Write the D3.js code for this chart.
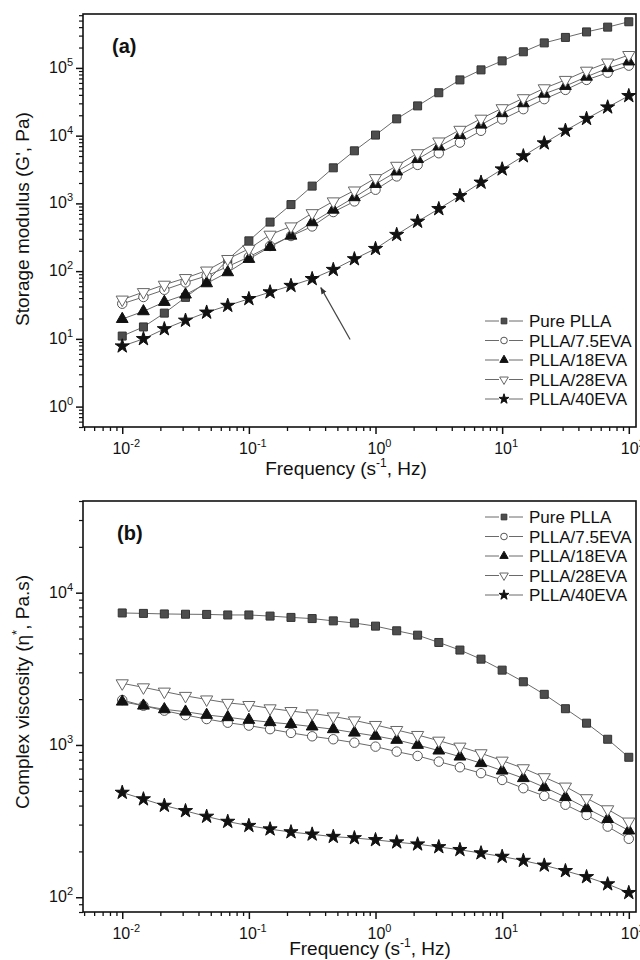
<!DOCTYPE html>
<html>
<head>
<meta charset="utf-8">
<script src="https://cdn.jsdelivr.net/npm/d3@7"></script>
<style>
 body { margin: 0; background: #fff; }
 text { font-family: "Liberation Sans", Arial, sans-serif; fill: #111; }
</style>
</head>
<body>
<div id="chart"></div>
<script>
// frequencies (Hz), 6 points per decade
var freq = [0.01, 0.0147, 0.0215, 0.0316, 0.0464, 0.0681, 0.1, 0.147, 0.215, 0.316, 0.464, 0.681,
            1, 1.47, 2.15, 3.16, 4.64, 6.81, 10, 14.7, 21.5, 31.6, 46.4, 68.1, 100];

var seriesNames = ["Pure PLLA", "PLLA/7.5EVA", "PLLA/18EVA", "PLLA/28EVA", "PLLA/40EVA"];

// (a) storage modulus G' (Pa)
var gPure = [11, 15, 24, 41, 70, 148, 280, 530, 960, 1800, 3350, 5970, 10200, 17700, 27500, 43000,
             66500, 93500, 127000, 173000, 234000, 282000, 340000, 400000, 480000];
var g75 = [33, 41.5, 53, 68, 85, 117, 162, 235, 330, 457, 745, 1070, 1590, 2500, 3700, 5500,
           7900, 11800, 17400, 24600, 34600, 47400, 66500, 85000, 108000];
var g18 = [19.6, 25.5, 35, 45, 66, 96, 151, 227, 333, 525, 805, 1230, 1930, 2950, 4500, 6900,
           10200, 14500, 21400, 30000, 41500, 54000, 74000, 99000, 124000];
var g28 = [38, 49, 63, 79, 102, 151, 213, 345, 457, 717, 1070, 1550, 2360, 3590, 5500, 8200,
           12200, 17800, 25400, 35700, 50000, 66500, 91000, 120000, 155000];
var g40 = [7.8, 10, 14, 18.7, 24.6, 31, 39, 49, 61, 77, 105, 151, 214, 345, 540, 830,
           1290, 2040, 3200, 5000, 7750, 11900, 17800, 26300, 38700];

// (b) complex viscosity eta* (Pa.s)
var etaPure = [7360, 7310, 7250, 7220, 7200, 7140, 7140, 7020, 6880, 6760, 6530, 6320, 6030,
               5620, 5260, 4710, 4200, 3660, 3100, 2600, 2150, 1730, 1390, 1090, 830];
var eta75 = [1973, 1810, 1680, 1570, 1480, 1400, 1340, 1270, 1200, 1140, 1090, 1035, 975,
             904, 847, 777, 714, 653, 589, 520, 463, 405, 347, 291, 242];
var eta18 = [1923, 1810, 1714, 1653, 1574, 1520, 1460, 1410, 1370, 1320, 1268, 1204, 1146,
             1079, 1000, 918, 838, 759, 678, 605, 528, 454, 384, 326, 274];
var eta28 = [2540, 2390, 2240, 2100, 1990, 1890, 1830, 1740, 1670, 1610, 1540, 1450, 1353,
             1254, 1163, 1067, 975, 882, 789, 703, 614, 533, 447, 378, 314];
var eta40 = [487, 441, 400, 369, 339, 314, 295, 280, 268, 259, 250, 245, 238,
             230, 223, 214, 205, 195, 185, 174, 162, 149, 136, 122, 107];

var xMajor = [0.01, 0.1, 1, 10, 100];
var xMajorExp = ["-2", "-1", "0", "1", "2"];
var yMajorA = [1, 10, 100, 1000, 10000, 100000];
var yMajorAExp = ["0", "1", "2", "3", "4", "5"];
var yMajorB = [100, 1000, 10000];
var yMajorBExp = ["2", "3", "4"];

// arrow in panel (a), data units
var arrowFrom = [0.63, 9.8];
var arrowTo = [0.37, 57];

var styles = [
  {type: d3.symbolSquare, fill: "#4d4d4d", stroke: "#333", size: 64, rot: 0},
  {type: d3.symbolCircle, fill: "#fff", stroke: "#555", size: 70, rot: 0},
  {type: d3.symbolTriangle, fill: "#111", stroke: "#111", size: 60, rot: 0},
  {type: d3.symbolTriangle, fill: "#fff", stroke: "#666", size: 64, rot: 180},
  {type: d3.symbolStar, fill: "#111", stroke: "#111", size: 62, rot: 0}
];

var width = 640, height = 960;
var left = 83, right = 636;

var svg = d3.select("#chart").append("svg").attr("width", width).attr("height", height);

svg.append("defs").append("marker")
  .attr("id", "arrowhead")
  .attr("viewBox", "0 0 10 10")
  .attr("refX", 9).attr("refY", 5)
  .attr("markerWidth", 7).attr("markerHeight", 7)
  .attr("markerUnits", "userSpaceOnUse")
  .attr("orient", "auto")
  .append("path").attr("d", "M0,1 L10,5 L0,9 Z").attr("fill", "#333");

var x = d3.scaleLog().domain([0.0049, 114]).range([left, right]);

function minorTicks(scale) {
  var dom = scale.domain(), out = [];
  var lo = Math.floor(Math.log10(dom[0])), hi = Math.ceil(Math.log10(dom[1]));
  for (var e = lo; e < hi; e++) {
    for (var m = 2; m < 10; m++) {
      var v = m * Math.pow(10, e);
      if (v >= dom[0] && v <= dom[1]) out.push(v);
    }
  }
  return out;
}

function supText(sel, base, exp) {
  sel.append("tspan").text(base);
  sel.append("tspan").attr("dy", -7).style("font-size", "11px").text(exp);
}

function drawPanel(opt) {
  var y = d3.scaleLog().domain(opt.yDomain).range([opt.bottom, opt.top]);
  var g = svg.append("g");

  // x ticks
  g.append("g").attr("transform", "translate(0," + opt.bottom + ")")
    .call(d3.axisBottom(x).tickValues(minorTicks(x)).tickSize(4).tickFormat(""))
    .call(function(a){ a.select(".domain").remove(); a.selectAll("line").attr("stroke", "#111").attr("stroke-width", 1.3); });
  g.append("g").attr("transform", "translate(0," + opt.bottom + ")")
    .call(d3.axisBottom(x).tickValues(xMajor).tickSize(7).tickFormat(""))
    .call(function(a){ a.select(".domain").remove(); a.selectAll("line").attr("stroke", "#111").attr("stroke-width", 1.5); });

  // y ticks
  g.append("g").attr("transform", "translate(" + left + ",0)")
    .call(d3.axisLeft(y).tickValues(minorTicks(y)).tickSize(4).tickFormat(""))
    .call(function(a){ a.select(".domain").remove(); a.selectAll("line").attr("stroke", "#111").attr("stroke-width", 1.2); });
  g.append("g").attr("transform", "translate(" + left + ",0)")
    .call(d3.axisLeft(y).tickValues(opt.yMajor).tickSize(7).tickFormat(""))
    .call(function(a){ a.select(".domain").remove(); a.selectAll("line").attr("stroke", "#111").attr("stroke-width", 1.5); });

  // frame
  g.append("rect")
    .attr("x", left).attr("y", opt.top)
    .attr("width", right - left).attr("height", opt.bottom - opt.top)
    .attr("fill", "none").attr("stroke", "#111").attr("stroke-width", 1.6);

  // x tick labels
  g.selectAll(".xlab").data(xMajor).enter().append("text")
    .attr("class", "xlab")
    .attr("x", function(d){ return x(d) + 4; })
    .attr("y", opt.xLabY)
    .attr("text-anchor", "middle")
    .style("font-size", "16px")
    .each(function(d, i){ supText(d3.select(this), "10", xMajorExp[i]); });

  // y tick labels
  g.selectAll(".ylab").data(opt.yMajor).enter().append("text")
    .attr("class", "ylab")
    .attr("x", 73)
    .attr("y", function(d){ return y(d) + 5; })
    .attr("text-anchor", "end")
    .style("font-size", "16px")
    .each(function(d, i){ supText(d3.select(this), "10", opt.yExp[i]); });

  // axis titles
  var xt = g.append("text")
    .attr("x", opt.xTitleX).attr("y", opt.xTitleY)
    .attr("text-anchor", "middle")
    .style("font-size", "19px");
  xt.append("tspan").text("Frequency (s");
  xt.append("tspan").attr("dy", -8).style("font-size", "12px").text("-1");
  xt.append("tspan").attr("dy", 8).text(", Hz)");

  var yt = g.append("text")
    .attr("transform", "translate(29," + opt.yTitleY + ") rotate(-90)")
    .attr("text-anchor", "middle")
    .style("font-size", "19px");
  yt.append("tspan").text(opt.yTitle[0]);
  yt.append("tspan").attr("dy", -8).style("font-size", "13px").text(opt.yTitle[1]);
  yt.append("tspan").attr("dy", 8).text(opt.yTitle[2]);

  // panel label
  g.append("text")
    .attr("x", opt.labelX).attr("y", opt.labelY)
    .style("font-size", "20px").style("font-weight", "bold")
    .text(opt.label);

  var line = d3.line()
    .x(function(d, i){ return x(freq[i]); })
    .y(function(d){ return y(d); });

  opt.series.forEach(function(s, k){
    var st = styles[k];
    g.append("path").datum(s)
      .attr("d", line)
      .attr("fill", "none")
      .attr("stroke", "#6a6a6a")
      .attr("stroke-width", 1);
    g.selectAll(".pt" + k).data(s).enter().append("path")
      .attr("class", "pt" + k)
      .attr("d", d3.symbol().type(st.type).size(st.size))
      .attr("transform", function(d, i){ return "translate(" + x(freq[i]) + "," + y(d) + ") rotate(" + st.rot + ")"; })
      .attr("fill", st.fill)
      .attr("stroke", st.stroke)
      .attr("stroke-width", 1);
  });

  // legend
  var leg = g.selectAll(".leg").data(seriesNames).enter().append("g")
    .attr("class", "leg")
    .attr("transform", function(d, i){ return "translate(0," + (opt.legendY + i * 19.5) + ")"; });
  leg.append("line")
    .attr("x1", 485).attr("x2", 499)
    .attr("stroke", "#6a6a6a").attr("stroke-width", 1);
  leg.append("line")
    .attr("x1", 509).attr("x2", 523)
    .attr("stroke", "#6a6a6a").attr("stroke-width", 1);
  leg.append("path")
    .attr("d", function(d, i){ return d3.symbol().type(styles[i].type).size(styles[i].size * 0.5)(); })
    .attr("transform", function(d, i){ return "translate(504,0) rotate(" + styles[i].rot + ")"; })
    .attr("fill", function(d, i){ return styles[i].fill; })
    .attr("stroke", function(d, i){ return styles[i].stroke; })
    .attr("stroke-width", 1);
  leg.append("text")
    .attr("x", 529).attr("y", 6)
    .style("font-size", "17px")
    .text(function(d){ return d; });

  return y;
}

var yA = drawPanel({
  top: 14, bottom: 427, yDomain: [0.5, 625000],
  yMajor: yMajorA, yExp: yMajorAExp,
  yTitle: ["Storage modulus (G', Pa)", "", ""], yTitleY: 219,
  xLabY: 454, xTitleX: 346, xTitleY: 475,
  label: "(a)", labelX: 112, labelY: 53,
  series: [gPure, g75, g18, g28, g40], legendY: 321
});

svg.append("line")
  .attr("x1", x(arrowFrom[0])).attr("y1", yA(arrowFrom[1]))
  .attr("x2", x(arrowTo[0])).attr("y2", yA(arrowTo[1]))
  .attr("stroke", "#444").attr("stroke-width", 1.2)
  .attr("marker-end", "url(#arrowhead)");

drawPanel({
  top: 501, bottom: 912, yDomain: [80, 40000],
  yMajor: yMajorB, yExp: yMajorBExp,
  yTitle: ["Complex viscosity (\u03b7", "*", ", Pa.s)"], yTitleY: 692,
  xLabY: 939, xTitleX: 370, xTitleY: 955,
  label: "(b)", labelX: 117, labelY: 540,
  series: [etaPure, eta75, eta18, eta28, eta40], legendY: 517
});
</script>
</body>
</html>
